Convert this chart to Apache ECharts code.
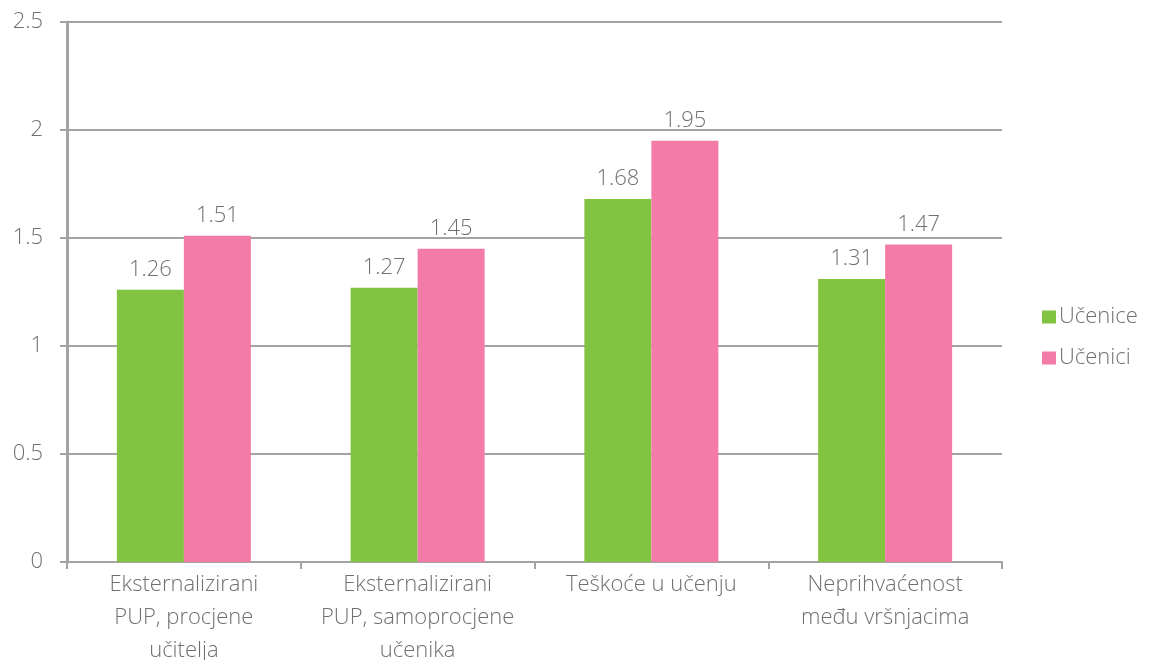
<!DOCTYPE html>
<html>
<head>
<meta charset="utf-8">
<script src="https://cdn.jsdelivr.net/npm/echarts@6/dist/echarts.min.js"></script>
<style>
  html, body { margin: 0; padding: 0; background: #fff; overflow: hidden; }
  #chart { width: 1154px; height: 660px; }
</style>
</head>
<body>
<div id="chart"></div>
<script>
const categories = [
  'Eksternalizirani\nPUP, procjene\nučitelja',
  'Eksternalizirani\nPUP, samoprocjene\nučenika',
  'Teškoće u učenju',
  'Neprihvaćenost\nmeđu vršnjacima'
];
const ucenice = [1.26, 1.27, 1.68, 1.31];
const ucenici = [1.51, 1.45, 1.95, 1.47];
const seriesNames = ['Učenice', 'Učenici'];
const yTicks = { min: 0, max: 2.5, interval: 0.5 };

const FONT = '"Open Sans", Lato, sans-serif';
const TEXT = '#707070';
const LINE = '#a3a3a3';
const FS = 22;

const labelStyle = {
  show: true,
  position: 'top',
  distance: 9,
  color: TEXT,
  fontFamily: FONT,
  fontWeight: 300,
  fontSize: FS
};

const chart = echarts.init(document.getElementById('chart'));
chart.setOption({
  animation: false,
  backgroundColor: '#ffffff',
  textStyle: { fontFamily: FONT, fontWeight: 300 },
  grid: {
    left: 67, right: 152, top: 22, bottom: 98,
    containLabel: false,
    outerBoundsMode: 'none'
  },
  legend: {
    orient: 'vertical',
    left: 1037,
    top: 301,
    itemWidth: 14,
    itemHeight: 13,
    itemGap: 19,
    icon: 'rect',
    textStyle: { color: TEXT, fontFamily: FONT, fontWeight: 300, fontSize: FS, padding: [0, 0, 0, -2] },
    data: seriesNames
  },
  xAxis: {
    type: 'category',
    data: categories,
    axisLine: { lineStyle: { color: LINE, width: 2 } },
    axisTick: { show: true, length: 7, lineStyle: { color: LINE, width: 2 } },
    axisLabel: {
      color: TEXT,
      fontFamily: FONT,
      fontWeight: 300,
      fontSize: FS,
      lineHeight: 33,
      margin: 6,
      interval: 0
    }
  },
  yAxis: {
    type: 'value',
    min: yTicks.min,
    max: yTicks.max,
    interval: yTicks.interval,
    axisLine: { show: true, lineStyle: { color: LINE, width: 3 } },
    axisTick: { show: true, length: 7, lineStyle: { color: LINE, width: 2 } },
    splitLine: { show: true, lineStyle: { color: LINE, width: 2 } },
    axisLabel: {
      color: TEXT,
      fontFamily: FONT,
      fontWeight: 300,
      fontSize: FS,
      margin: 24,
      formatter: v => String(v)
    }
  },
  series: [
    {
      name: seriesNames[0],
      type: 'bar',
      data: ucenice,
      barWidth: 67,
      barGap: '0%',
      itemStyle: { color: '#82c341' },
      label: labelStyle
    },
    {
      name: seriesNames[1],
      type: 'bar',
      data: ucenici,
      barWidth: 67,
      barGap: '0%',
      itemStyle: { color: '#f27ba8' },
      label: labelStyle
    }
  ]
});
</script>
</body>
</html>
